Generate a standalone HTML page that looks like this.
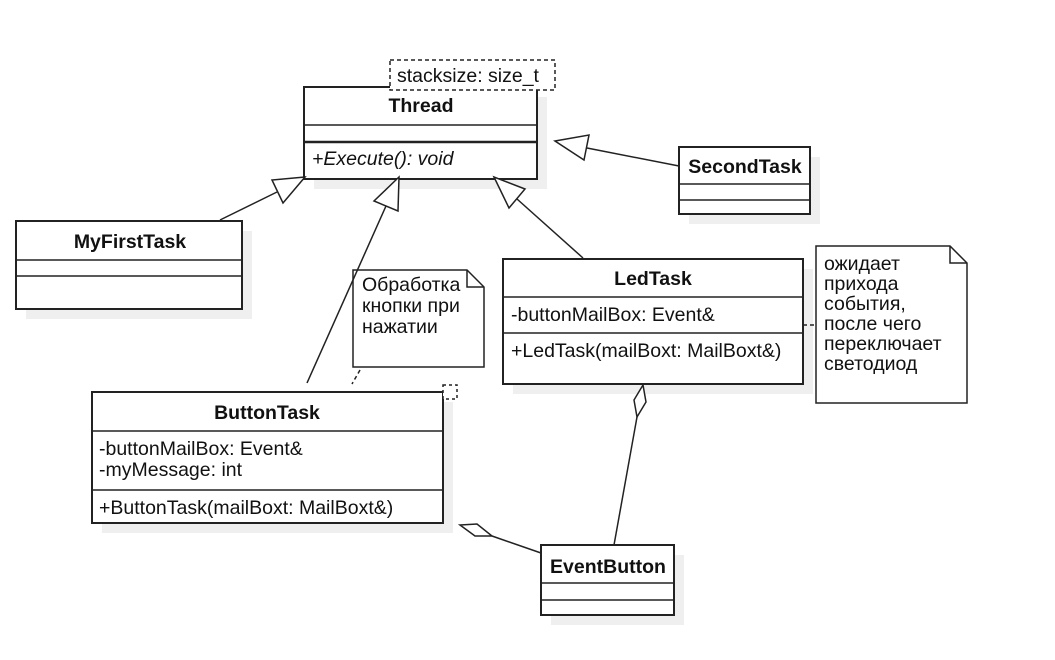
<!DOCTYPE html>
<html><head><meta charset="utf-8"><style>
html,body{margin:0;padding:0;background:#fff;}
svg text{font-family:"Liberation Sans",Arial,sans-serif;font-size:19.5px;fill:#111;}
.b{font-weight:bold;}
</style></head><body>
<svg width="1055" height="655" viewBox="0 0 1055 655" xmlns="http://www.w3.org/2000/svg">
<g fill="#efefef" stroke="none">
<rect x="314" y="97" width="233" height="92"/>
<rect x="26" y="231" width="226" height="88"/>
<rect x="689" y="157" width="131" height="67"/>
<rect x="513" y="269" width="300" height="125"/>
<rect x="102" y="402" width="351" height="131"/>
<rect x="551" y="555" width="133" height="70"/>
</g>
<g fill="#fff" stroke="#222" stroke-width="2">
<rect x="304" y="87" width="233" height="92"/>
<rect x="16" y="221" width="226" height="88"/>
<rect x="679" y="147" width="131" height="67"/>
<rect x="503" y="259" width="300" height="125"/>
<rect x="92" y="392" width="351" height="131"/>
<rect x="541" y="545" width="133" height="70"/>
</g>
<g stroke="#222" stroke-width="1.5">
<line x1="304" y1="125" x2="537" y2="125"/><line x1="304" y1="142" x2="537" y2="142" stroke-width="2.5"/>
<line x1="16" y1="260" x2="242" y2="260"/><line x1="16" y1="276" x2="242" y2="276"/>
<line x1="679" y1="184" x2="810" y2="184"/><line x1="679" y1="200" x2="810" y2="200"/>
<line x1="503" y1="297" x2="803" y2="297"/><line x1="503" y1="333" x2="803" y2="333"/>
<line x1="92" y1="431" x2="443" y2="431"/><line x1="92" y1="490" x2="443" y2="490"/>
<line x1="541" y1="583" x2="674" y2="583"/><line x1="541" y1="600" x2="674" y2="600"/>
</g>
<rect x="390" y="60" width="165" height="30" fill="#fff" stroke="#222" stroke-width="1.5" stroke-dasharray="4,3"/>
<text x="397" y="82">stacksize: size_t</text>
<rect x="443" y="385" width="14" height="14" fill="#fff" stroke="#222" stroke-width="1.5" stroke-dasharray="3,3"/>
<text class="b" x="421" y="112" text-anchor="middle">Thread</text>
<text x="312" y="165" font-style="italic">+Execute(): void</text>
<text class="b" x="130" y="248" text-anchor="middle">MyFirstTask</text>
<text class="b" x="745" y="173" text-anchor="middle">SecondTask</text>
<text class="b" x="653" y="285" text-anchor="middle">LedTask</text>
<text x="511" y="321">-buttonMailBox: Event&amp;</text>
<text x="511" y="357">+LedTask(mailBoxt: MailBoxt&amp;)</text>
<text class="b" x="267" y="419" text-anchor="middle">ButtonTask</text>
<text x="99" y="455">-buttonMailBox: Event&amp;</text>
<text x="99" y="476">-myMessage: int</text>
<text x="99" y="514">+ButtonTask(mailBoxt: MailBoxt&amp;)</text>
<text class="b" x="608" y="573" text-anchor="middle">EventButton</text>
<g fill="#fff" stroke="#222" stroke-width="1.5">
<path d="M353 270 H467 L484 287 V367 H353 Z"/><path d="M467 270 V287 H484" fill="none"/>
<path d="M816 246 H950 L967 263 V403 H816 Z"/><path d="M950 246 V263 H967" fill="none"/>
</g>
<text x="362" y="291">Обработка</text><text x="362" y="312">кнопки при</text><text x="362" y="333">нажатии</text>
<text x="824" y="270">ожидает</text><text x="824" y="290">прихода</text><text x="824" y="310">события,</text><text x="824" y="330">после чего</text><text x="824" y="350">переключает</text><text x="824" y="370">светодиод</text>
<g stroke="#222" stroke-width="1.5" fill="none">
<line x1="220" y1="220" x2="277" y2="192"/>
<line x1="386" y1="206" x2="307" y2="383"/>
<line x1="517" y1="199" x2="583" y2="258"/>
<line x1="587" y1="148" x2="679" y2="166"/>
<line x1="637" y1="417" x2="614" y2="545"/>
<line x1="492" y1="536" x2="541" y2="553"/>
<line x1="803" y1="325" x2="816" y2="325" stroke-dasharray="4,3"/>
<line x1="360" y1="370" x2="352" y2="384" stroke-dasharray="4,3"/>
</g>
<g fill="#fff" stroke="#222" stroke-width="1.5">
<polygon points="305,177 272,180 283,203"/>
<polygon points="399,177 374,201 398,211"/>
<polygon points="494,177 509,208 525,189"/>
<polygon points="555,141 589,135 584,160"/>
<polygon points="643,385 634,400 637,417 646,402"/>
<polygon points="460,525 477,524 492,536 475,536"/>
</g>
</svg>
</body></html>
